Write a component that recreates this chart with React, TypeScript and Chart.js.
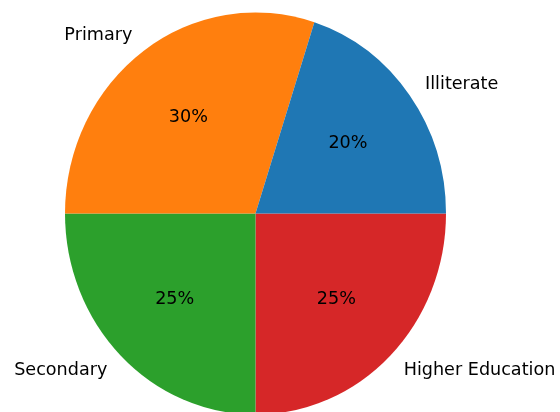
import React, { useEffect, useRef } from "react";
import { Chart, registerables } from "chart.js";

Chart.register(...registerables);

const categories = ["Illiterate", "Primary", "Secondary", "Higher Education"];
const values = [20, 30, 25, 25];
const colors = ["#1f77b4", "#ff7f0e", "#2ca02c", "#d62728"];

const STRETCH_Y = 201 / 190.5;
const FONT = "17.6px 'DejaVu Sans'";

const stretchPlugin = {
  id: "stretchY",
  beforeDatasetsDraw(chart: any) {
    const arc = chart.getDatasetMeta(0).data[0];
    if (!arc) return;
    const ctx = chart.ctx;
    ctx.save();
    ctx.translate(arc.x, arc.y);
    ctx.scale(1, STRETCH_Y);
    ctx.translate(-arc.x, -arc.y);
  },
  afterDatasetsDraw(chart: any) {
    chart.ctx.restore();
  },
};

const labelPlugin = {
  id: "pieLabels",
  afterDraw(chart: any) {
    const ctx = chart.ctx;
    const meta = chart.getDatasetMeta(0);
    const labels = chart.data.labels as string[];
    const data = chart.data.datasets[0].data as number[];
    const total = data.reduce((a: number, b: number) => a + b, 0);
    ctx.save();
    ctx.font = FONT;
    ctx.fillStyle = "#000";
    ctx.textBaseline = "middle";
    meta.data.forEach((arc: any, i: number) => {
      const a = (arc.startAngle + arc.endAngle) / 2;
      const r = arc.outerRadius;
      const c = Math.cos(a);
      const s = Math.sin(a);
      const lx = arc.x + 1.1 * r * c;
      const ly = arc.y + 1.1 * r * STRETCH_Y * s + 1;
      ctx.textAlign = c > 0 ? "left" : "right";
      ctx.fillText(labels[i], lx, ly);
      const px = arc.x + 0.6 * r * c;
      const py = arc.y + 0.6 * r * STRETCH_Y * s + 1;
      ctx.textAlign = "center";
      ctx.fillText(Math.round((data[i] / total) * 100) + "%", px, py);
    });
    ctx.restore();
  },
};

export default function App() {
  const ref = useRef<HTMLCanvasElement>(null);
  useEffect(() => {
    if (!ref.current) return;
    const order = [3, 2, 1, 0];
    const chart = new Chart(ref.current, {
      type: "pie",
      data: {
        labels: order.map((i) => categories[i]),
        datasets: [
          {
            data: order.map((i) => values[i]),
            backgroundColor: order.map((i) => colors[i]),
            borderWidth: 0,
            radius: 190.5,
          } as any,
        ],
      },
      options: {
        animation: false,
        responsive: false,
        rotation: 90,
        layout: { padding: { left: 0, right: 49, top: 15, bottom: 0 } },
        plugins: {
          legend: { display: false },
          tooltip: { enabled: false },
        },
      },
      plugins: [stretchPlugin, labelPlugin],
    });
    return () => chart.destroy();
  }, []);
  return (
    <div style={{ position: "fixed", left: 0, top: 0, width: 560, height: 412, background: "#fff" }}>
      <canvas ref={ref} width={560} height={412} style={{ width: 560, height: 412 }} />
    </div>
  );
}
